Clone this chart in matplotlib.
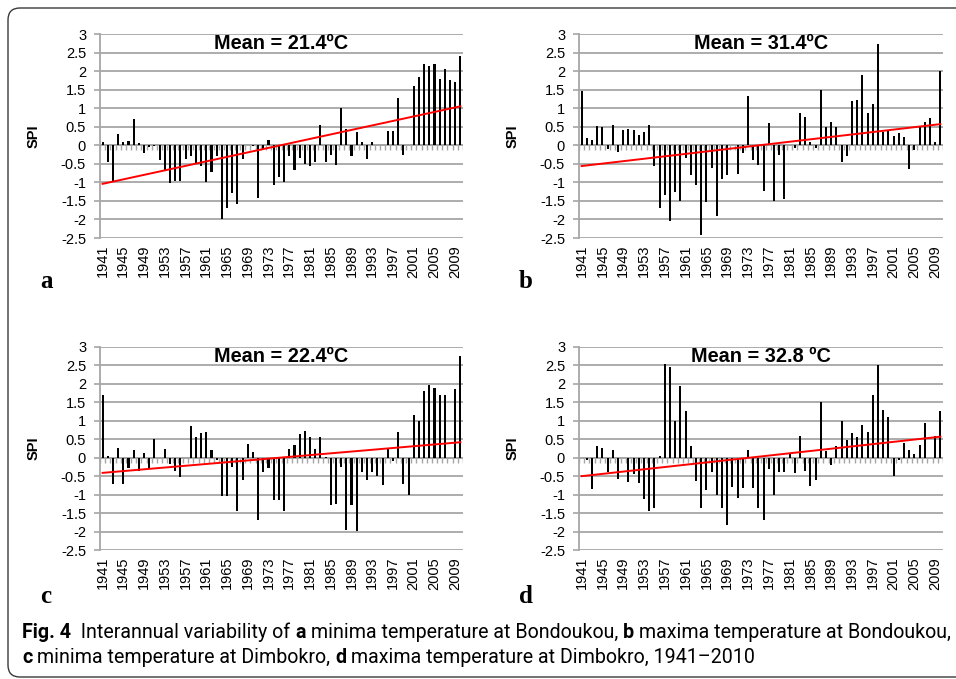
import numpy as np
import matplotlib
matplotlib.use('Agg')
import matplotlib.pyplot as plt
from matplotlib import font_manager
from matplotlib.patches import FancyBboxPatch
from matplotlib.transforms import IdentityTransform

plt.rcParams['font.family'] = ['Liberation Sans', 'DejaVu Sans']

# ──── Data (SPI per year, 1941-2010) ──────────────────────────
YEARS = np.arange(1941, 2011)

spi_a = [0.1, -0.45, -1.0, 0.3, 0.08, 0.12, 0.7, 0.07, -0.2, -0.05,
         -0.03, -0.4, -0.68, -1.03, -0.97, -0.97, -0.37, -0.3, -0.5, -0.57,
         -1.0, -0.73, -0.3, -2.0, -1.7, -1.3, -1.57, -0.38, 0.02, -0.03,
         -1.42, -0.1, 0.15, -1.07, -0.85, -1.0, -0.3, -0.68, -0.35, -0.5,
         -0.55, -0.45, 0.55, -0.45, -0.25, -0.52, 1.0, 0.43, -0.28, 0.35,
         0.1, -0.38, 0.1, 0.0, 0.0, 0.38, 0.38, 1.27, -0.25, 0.0,
         1.6, 1.83, 2.2, 2.15, 2.2, 1.8, 2.05, 1.75, 1.7, 2.42]

spi_b = [1.45, 0.2, 0.15, 0.52, 0.5, -0.1, 0.55, -0.18, 0.4, 0.45,
         0.4, 0.28, 0.35, 0.55, -0.55, -1.68, -1.35, -2.05, -1.27, -1.5,
         -0.35, -0.8, -1.08, -2.43, -1.53, -0.62, -1.9, -0.92, -0.8, 0.0,
         -0.77, -0.22, 1.33, -0.4, -0.52, -1.22, 0.6, -1.5, -0.25, -1.45,
         0.0, -0.08, 0.87, 0.77, 0.1, -0.08, 1.5, 0.5, 0.62, 0.48,
         -0.45, -0.3, 1.2, 1.22, 1.9, 0.87, 1.12, 2.72, 0.35, 0.42,
         0.25, 0.33, 0.22, -0.65, -0.12, 0.5, 0.63, 0.73, 0.08, 2.0]

spi_c = [1.7, 0.05, -0.7, 0.27, -0.7, -0.27, 0.2, -0.37, 0.12, -0.3,
         0.5, -0.02, 0.25, -0.18, -0.37, -0.52, 0.0, 0.85, 0.55, 0.68,
         0.7, 0.2, -0.05, -1.05, -1.05, -0.25, -1.45, -0.6, 0.38, 0.15,
         -1.68, -0.4, -0.27, -1.15, -1.15, -1.45, 0.25, 0.35, 0.65, 0.72,
         0.55, 0.25, 0.55, 0.02, -1.27, -1.25, -0.25, -1.97, -1.27, -1.98,
         -0.38, -0.6, -0.38, -0.5, -0.75, 0.25, -0.1, 0.7, -0.72, -1.02,
         1.17, 1.0, 1.8, 1.97, 1.88, 1.7, 1.7, 0.0, 1.87, 2.75]

spi_d = [0.0, -0.05, -0.85, 0.33, 0.27, -0.38, 0.2, -0.57, 0.0, -0.67,
         -0.43, -0.68, -1.13, -1.45, -1.35, 0.05, 2.55, 2.45, 1.0, 1.95,
         1.27, 0.33, -0.62, -1.37, -0.88, -0.4, -1.0, -1.35, -1.82, -0.8,
         -1.1, -0.82, 0.22, -0.82, -1.35, -1.68, -0.3, -1.0, -0.38, -0.38,
         0.1, -0.42, 0.6, -0.35, -0.77, -0.6, 1.5, 0.18, -0.2, 0.33,
         1.0, 0.48, 0.68, 0.55, 0.9, 0.7, 1.7, 2.5, 1.3, 1.1,
         -0.5, -0.05, 0.4, 0.2, 0.1, 0.35, 0.93, 0.0, 0.6, 1.27]

# trend line values at 1941 and 2010
trend_a = [-1.04, 1.05]
trend_b = [-0.56, 0.57]
trend_c = [-0.41, 0.42]
trend_d = [-0.50, 0.57]

titles = ['Mean = 21.4ºC', 'Mean = 31.4ºC', 'Mean = 22.4ºC', 'Mean = 32.8 ºC']
letters = ['a', 'b', 'c', 'd']
yticks = np.arange(-2.5, 3.01, 0.5)
ytick_labels = ['-2.5', '-2', '-1.5', '-1', '-0.5', '0',
                '0.5', '1', '1.5', '2', '2.5', '3']

W, H = 956, 679
GRID = '#a6a6a6'


def px_box(l, t, r, b):
    return [l / W, 1 - b / H, (r - l) / W, (b - t) / H]


# pixel boxes of the four plot areas
BOXES = [(100, 34, 463, 238), (579, 34, 943, 238),
         (100, 347, 463, 550), (579, 347, 943, 550)]
LETTER_POS = [(40, 288), (519, 288), (40, 603), (519, 603)]


def draw_panel(fig, box, vals, trend, title):
    ax = fig.add_axes(px_box(*box))
    ax.set_xlim(YEARS[0] - 0.5, YEARS[-1] + 0.5)
    ax.set_ylim(-2.5, 3)
    ax.set_yticks(yticks)
    ax.set_yticklabels(ytick_labels)
    ax.yaxis.grid(True, color=GRID, lw=1.3)
    ax.set_axisbelow(True)
    for s in ['top', 'right', 'bottom']:
        ax.spines[s].set_visible(False)
    ax.spines['left'].set_color(GRID)
    ax.spines['left'].set_linewidth(1.3)
    ax.tick_params(axis='y', colors=GRID, length=4, width=1.2, pad=6,
                   labelsize=10.5, labelcolor='black')
    ax.set_xticks(YEARS[::4])
    ax.set_xticklabels([str(y) for y in YEARS[::4]], rotation=90)
    ax.tick_params(axis='x', length=0, pad=5, labelsize=10.5)

    # category tick marks hanging below the zero line
    edges = np.arange(YEARS[0] - 0.5, YEARS[-1] + 1.0, 1.0)
    ax.vlines(edges, -0.13, 0, color=GRID, lw=1.0, zorder=1)
    ax.axhline(0, color=GRID, lw=1.3, zorder=1)

    ax.bar(YEARS, vals, width=0.4, color='black', zorder=3)
    ax.plot([YEARS[0], YEARS[-1]], trend, color='#ff0000', lw=1.4, zorder=4)

    ax.text(0.5, 0.998, title, transform=ax.transAxes, ha='center', va='top',
            fontsize=14.3, fontweight='bold')
    ax.set_ylabel('SPI', fontsize=10.5, fontweight='bold')
    ax.yaxis.set_label_coords(-0.163, 0.5)
    return ax


fig = plt.figure(figsize=(W / 100, H / 100), dpi=100)

# rounded frame round the whole figure
frame = FancyBboxPatch((8, 2), 980, 669, boxstyle='round,pad=0,rounding_size=12',
                       transform=IdentityTransform(), fill=False,
                       ec='#3a3a3a', lw=1.0)
fig.patches.append(frame)

series = [spi_a, spi_b, spi_c, spi_d]
trends = [trend_a, trend_b, trend_c, trend_d]
for box, vals, tr, ttl in zip(BOXES, series, trends, titles):
    draw_panel(fig, box, vals, tr, ttl)

for (lx, ly), lt in zip(LETTER_POS, letters):
    fig.text(lx / W, 1 - ly / H, lt, fontsize=18, fontweight='bold',
             family=['Liberation Serif', 'DejaVu Serif'], va='baseline')

# ──── Caption ──────────────────────────────────────────────────
have = {f.name for f in font_manager.fontManager.ttflist}
cap_font = 'Liberation Sans Narrow' if 'Liberation Sans Narrow' in have else 'Roboto'
cap_size = 12.7 if cap_font == 'Liberation Sans Narrow' else 14.1

cax = fig.add_axes([0, 0, 1, 1], zorder=-1)
cax.axis('off')

lines = [
    [('Fig. 4', 'bold'), ('  Interannual variability of ', 'normal'), ('a', 'bold'),
     (' minima temperature at Bondoukou, ', 'normal'), ('b', 'bold'),
     (' maxima temperature at Bondoukou,', 'normal')],
    [('c', 'bold'), (' minima temperature at Dimbokro, ', 'normal'), ('d', 'bold'),
     (' maxima temperature at Dimbokro, 1941\u20132010', 'normal')],
]
baselines = [638, 663]
for parts, yb in zip(lines, baselines):
    prev = None
    for txt, wt in parts:
        if prev is None:
            prev = cax.text(22 / W, 1 - yb / H, txt, transform=fig.transFigure,
                            fontsize=cap_size, fontweight=wt, family=cap_font,
                            va='baseline', ha='left')
        else:
            prev = cax.annotate(txt, xy=(1, 0), xycoords=prev, va='bottom',
                                ha='left', fontsize=cap_size, fontweight=wt,
                                family=cap_font)

fig.savefig('out.png', dpi=100)
